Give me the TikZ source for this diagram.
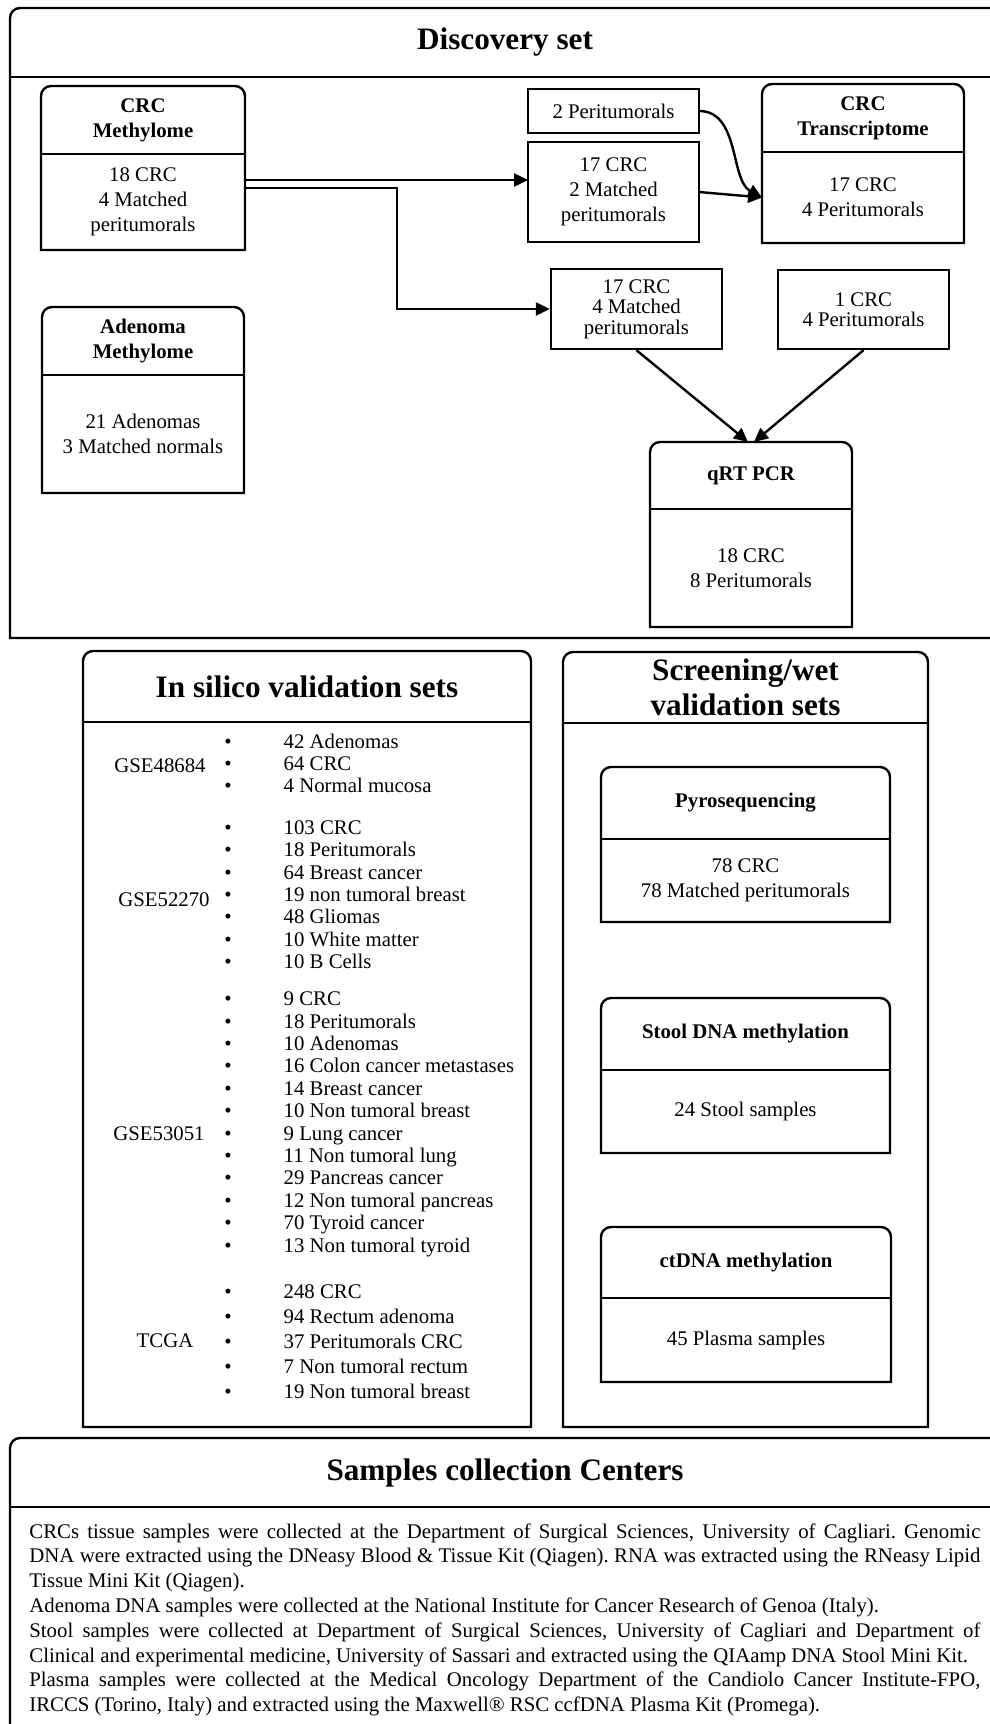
\documentclass[tikz,border=0pt]{standalone}
\usepackage{fontspec}
\setmainfont{Liberation Serif}
\usetikzlibrary{arrows.meta,calc}
\frenchspacing

\tikzset{
  frame/.style={line width=1.2pt},
  arr/.style={line width=1.2pt, -{Triangle[length=7pt,width=6.5pt]}},
  settitle/.style={font=\bfseries\fontsize{15.6}{17.5}\selectfont, align=center, inner sep=0pt, outer sep=0pt},
  headtxt/.style={font=\bfseries\fontsize{10.4}{12.5}\selectfont, align=center, inner sep=0pt, outer sep=0pt},
  bodytxt/.style={font=\fontsize{10.4}{12.5}\selectfont, align=center, inner sep=0pt, outer sep=0pt},
  tighttxt/.style={font=\fontsize{10.4}{10.2}\selectfont, align=center, inner sep=0pt},
  listtxt/.style={font=\fontsize{10.4}{11.2}\selectfont, inner sep=0pt},
  plainbox/.style={draw, line width=1.2pt},
}

\newcommand{\capframe}[2]{%
  \draw[frame] (#2.south west) -- ([yshift=-5pt]#1.north west)
    arc[start angle=180, end angle=90, radius=5pt] -- ([xshift=-5pt]#1.north east)
    arc[start angle=90, end angle=0, radius=5pt] -- (#2.south east) -- cycle;
  \draw[frame] (#1.south west) -- (#1.south east);}

\begin{document}
\begin{tikzpicture}[x=0.5pt, y=-0.5pt]
        \useasboundingbox (0,0) rectangle (990,1724);
        \clip (0,0) rectangle (990,1724);

        \coordinate (elbow) at (397,188);

        \node [settitle, minimum width=495pt, minimum height=34.5pt] (DShead) at (505,42.5) {Discovery set};
        \node [bodytxt, minimum width=495pt, minimum height=280.5pt] (DSbody) at (505,357.5) {};

        \node [headtxt, minimum width=102pt, minimum height=34pt] (CMhead) at (143,120) {CRC\\Methylome};
        \node [bodytxt, minimum width=102pt, minimum height=48pt] (CMbody) at (143,202) {18 CRC\\4 Matched\\peritumorals};

        \node [headtxt, minimum width=101pt, minimum height=34pt] (AMhead) at (143,341) {Adenoma\\Methylome};
        \node [bodytxt, minimum width=101pt, minimum height=59pt] (AMbody) at (143,434) {21 Adenomas\\3 Matched normals};

        \node [plainbox, bodytxt, minimum width=85.5pt, minimum height=22pt] (P2) at (613.5,111) {2 Peritumorals};
        \node [plainbox, bodytxt, minimum width=85.5pt, minimum height=50pt] (M2) at (613.5,192) {17 CRC\\2 Matched\\peritumorals};

        \node [headtxt, minimum width=101pt, minimum height=34pt] (TRhead) at (863,118) {CRC\\Transcriptome};
        \node [bodytxt, minimum width=101pt, minimum height=45.5pt] (TRbody) at (863,197.5) {17 CRC\\4 Peritumorals};

        \node [plainbox, tighttxt, minimum width=85.5pt, minimum height=40pt] (M4) at (636.5,309) {17 CRC\\4 Matched\\peritumorals};
        \node [plainbox, tighttxt, minimum width=85.5pt, minimum height=39.5pt] (P1) at (863.5,309.5) {1 CRC\\4 Peritumorals};

        \node [headtxt, minimum width=101pt, minimum height=33.5pt] (QRhead) at (751,475.5) {qRT PCR};
        \node [bodytxt, minimum width=101pt, minimum height=59pt] (QRbody) at (751,568) {18 CRC\\8 Peritumorals};

        \node [settitle, minimum width=224pt, minimum height=35.5pt] (SIhead) at (307,686.5) {In silico validation sets};
        \node [bodytxt, minimum width=224pt, minimum height=352.5pt] (SIbody) at (307,1074.5) {};

        \node [listtxt] (G1) at (160,766) {GSE48684};
        \node [listtxt, anchor=west] (L1) at (224,766) {\begin{tabular}{@{}l@{\hspace{26pt}}l@{}}
            \textbullet & 42 Adenomas\\
            \textbullet & 64 CRC\\
            \textbullet & 4 Normal mucosa
          \end{tabular}};
        \node [listtxt] (G2) at (164,900) {GSE52270};
        \node [listtxt, anchor=west] (L2) at (224,897) {\begin{tabular}{@{}l@{\hspace{26pt}}l@{}}
            \textbullet & 103 CRC\\
            \textbullet & 18 Peritumorals\\
            \textbullet & 64 Breast cancer\\
            \textbullet & 19 non tumoral breast\\
            \textbullet & 48 Gliomas\\
            \textbullet & 10 White matter\\
            \textbullet & 10 B Cells
          \end{tabular}};
        \node [listtxt] (G3) at (159,1134) {GSE53051};
        \node [listtxt, anchor=west] (L3) at (224,1124.5) {\begin{tabular}{@{}l@{\hspace{26pt}}l@{}}
            \textbullet & 9 CRC\\
            \textbullet & 18 Peritumorals\\
            \textbullet & 10 Adenomas\\
            \textbullet & 16 Colon cancer metastases\\
            \textbullet & 14 Breast cancer\\
            \textbullet & 10 Non tumoral breast\\
            \textbullet & 9 Lung cancer\\
            \textbullet & 11 Non tumoral lung\\
            \textbullet & 29 Pancreas cancer\\
            \textbullet & 12 Non tumoral pancreas\\
            \textbullet & 70 Tyroid cancer\\
            \textbullet & 13 Non tumoral tyroid
          \end{tabular}};
        \node [listtxt] (G4) at (165,1341) {TCGA};
        \node [listtxt, font=\fontsize{10.4}{12.5}\selectfont, anchor=west] (L4) at (224,1343) {\begin{tabular}{@{}l@{\hspace{26pt}}l@{}}
            \textbullet & 248 CRC\\
            \textbullet & 94 Rectum adenoma\\
            \textbullet & 37 Peritumorals CRC\\
            \textbullet & 7 Non tumoral rectum\\
            \textbullet & 19 Non tumoral breast
          \end{tabular}};

        \node [settitle, minimum width=182.5pt, minimum height=35.5pt] (SWhead) at (745.5,687.5) {Screening/wet\\validation sets};
        \node [bodytxt, minimum width=182.5pt, minimum height=352pt] (SWbody) at (745.5,1075) {};

        \node [headtxt, minimum width=144.5pt, minimum height=36pt] (PYhead) at (745.5,803) {Pyrosequencing};
        \node [bodytxt, minimum width=144.5pt, minimum height=41.5pt] (PYbody) at (745.5,880.5) {78 CRC\\78 Matched peritumorals};

        \node [headtxt, minimum width=144.5pt, minimum height=36pt] (SThead) at (745.5,1034) {Stool DNA methylation};
        \node [bodytxt, minimum width=144.5pt, minimum height=41.5pt] (STbody) at (745.5,1111.5) {24 Stool samples};

        \node [headtxt, minimum width=145pt, minimum height=35.5pt] (CThead) at (746,1262.5) {ctDNA methylation};
        \node [bodytxt, minimum width=145pt, minimum height=42pt] (CTbody) at (746,1340) {45 Plasma samples};

        \node [settitle, minimum width=495pt, minimum height=34.5pt] (SChead) at (505,1472.5) {Samples collection Centers};
        \node [bodytxt, minimum width=495pt, minimum height=126.5pt] (SCbody) at (505,1633.5) {};
        \node [anchor=north west, inner sep=0pt, text width=475.5pt, align=justify, font=\fontsize{10.4}{12.4}\selectfont] (SCtext) at (29,1523)
        {\parindent=0pt
          CRCs tissue samples were collected at the Department of Surgical Sciences, University of Cagliari. Genomic\linebreak
          DNA were extracted using the DNeasy Blood \& Tissue Kit (Qiagen). RNA was extracted using the RNeasy Lipid\linebreak
          Tissue Mini Kit (Qiagen).\par
          Adenoma DNA samples were collected at the National Institute for Cancer Research of Genoa (Italy).\par
          Stool samples were collected at Department of Surgical Sciences, University of Cagliari and Department of\linebreak
          Clinical and experimental medicine, University of Sassari and extracted using the QIAamp DNA Stool Mini Kit.\par
          Plasma samples were collected at the Medical Oncology Department of the Candiolo Cancer Institute-FPO,\linebreak
          IRCCS (Torino, Italy) and extracted using the Maxwell® RSC ccfDNA Plasma Kit (Promega).
        };

        \capframe{DShead}{DSbody}
        \capframe{CMhead}{CMbody}
        \capframe{AMhead}{AMbody}
        \capframe{TRhead}{TRbody}
        \capframe{QRhead}{QRbody}
        \capframe{SIhead}{SIbody}
        \capframe{SWhead}{SWbody}
        \capframe{PYhead}{PYbody}
        \capframe{SThead}{STbody}
        \capframe{CThead}{CTbody}
        \capframe{SChead}{SCbody}

        \draw [arr] ($(CMbody.east)+(0,-22)$) -- ($(CMbody.east -| M2.west)+(0,-22)$);
        \draw [arr] ($(CMbody.east)+(0,-14)$) -- (elbow) |- (M4.west);
        \draw [arr] (P2.east) .. controls (740,111) and (730,180) .. (TRbody.west);
        \draw [arr] (M2.east) -- (TRbody.west);
        \draw [arr] (M4.south) -- ([xshift=-1.5pt]QRhead.north);
        \draw [arr] (P1.south) -- ([xshift=1.5pt]QRhead.north);
      \end{tikzpicture}
\end{document}
